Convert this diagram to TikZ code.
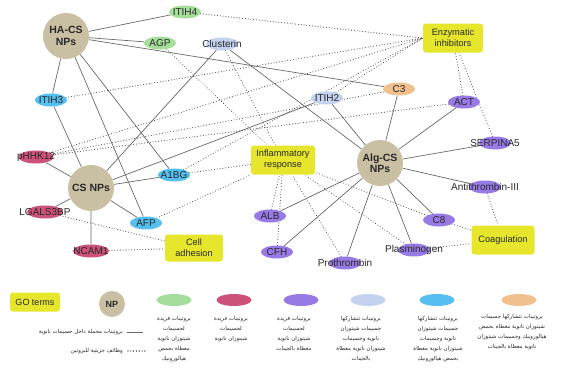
\documentclass[tikz,border=0pt]{standalone}
\usepackage{fontspec}
\setmainfont{Liberation Sans}
\newfontfamily\arabicfont[Script=Arabic]{DejaVu Sans}
\TeXXeTstate=1
\usetikzlibrary{shapes.geometric}
\definecolor{npc}{RGB}{201,192,163}
\definecolor{goc}{RGB}{230,230,45}
\definecolor{cgreen}{RGB}{165,222,155}
\definecolor{cred}{RGB}{205,82,122}
\definecolor{cpurple}{RGB}{152,122,230}
\definecolor{clav}{RGB}{196,210,240}
\definecolor{ccyan}{RGB}{85,192,240}
\definecolor{corange}{RGB}{240,192,142}
\definecolor{edgec}{RGB}{105,105,105}
\definecolor{dotc}{RGB}{80,80,80}
\definecolor{txtc}{RGB}{40,40,40}
\newcommand{\artxt}[1]{{\arabicfont\beginR #1\endR}}
\pgfdeclarelayer{bg}
\pgfdeclarelayer{canvas}
\pgfsetlayers{canvas,bg,main}
\begin{document}
\begin{tikzpicture}[x=1pt,y=-1pt,
  np/.style={circle,fill=npc,minimum size=46pt,inner sep=0pt,align=center,
    font=\bfseries\fontsize{10.5}{11.5}\selectfont,text=txtc},
  gobox/.style={fill=goc,rounded corners=3pt,minimum height=29pt,align=center,
    inner sep=1pt,font=\fontsize{9.2}{11}\selectfont,text=txtc},
  prot/.style={ellipse,fill=#1,minimum width=32pt,minimum height=13pt,inner sep=0pt},
  every label/.style={font=\fontsize{10}{11}\selectfont,text=txtc,inner sep=0pt},
  link/.style={draw=edgec,line width=0.7pt},
  func/.style={draw=dotc,line width=1.1pt,dash pattern=on 0.01pt off 2.8pt,line cap=round},
  leg/.style={ellipse,fill=#1,minimum width=35pt,minimum height=12pt,inner sep=0pt},
  legtxt/.style={align=center,inner sep=0pt,font=\fontsize{5.5}{10}\selectfont,text=txtc,anchor=north}
]
\begin{pgfonlayer}{canvas}
\fill[white] (0,0) rectangle (563,372);
\end{pgfonlayer}
\useasboundingbox (0,0) rectangle (563,372);

% nanoparticles
\node[np] (ha) at (66,36) {HA-CS\\NPs};
\node[np] (cs) at (91,188) {CS NPs};
\node[np] (alg) at (380,163) {Alg-CS\\NPs};

% GO terms
\node[gobox,minimum width=60pt] (enz) at (453,38) {Enzymatic\\inhibitors};
\node[gobox,minimum width=64pt] (inf) at (283,160) {Inflammatory\\response};
\node[gobox,minimum width=58pt,minimum height=27pt] (cell) at (194,248) {Cell\\adhesion};
\node[gobox,minimum width=63pt] (coag) at (503,240) {Coagulation};

% proteins
\node[prot=cgreen,label=center:ITIH4] (itih4) at (185,12) {};
\node[prot=cgreen,label=center:AGP] (agp) at (160,43) {};
\node[prot=clav,label=center:Clusterin] (clus) at (222,44) {};
\node[prot=ccyan,label=center:ITIH3] (itih3) at (51,100) {};
\node[prot=corange,label=center:C3] (c3) at (399,89) {};
\node[prot=clav,label=center:ITIH2] (itih2) at (327,98) {};
\node[prot=cpurple,label=center:ACT] (act) at (464,102) {};
\node[prot=cpurple,label=center:SERPINA5] (serp) at (495,143) {};
\node[prot=cpurple,label=center:Antithrombin-III] (anti) at (485,187) {};
\node[prot=cpurple,label=center:C8] (c8) at (439,220) {};
\node[prot=cpurple,label=center:Plasminogen] (plas) at (414,250) {};
\node[prot=cpurple,label=center:Prothrombin] (proth) at (345,263) {};
\node[prot=cpurple,label=center:CFH] (cfh) at (277,252) {};
\node[prot=cpurple,label=center:ALB] (alb) at (270,216) {};
\node[prot=cred,minimum width=35pt,label=center:pHHK12] (phhk) at (36,157) {};
\node[prot=ccyan,label=center:A1BG] (a1bg) at (174,175) {};
\node[prot=cred,minimum width=36pt,label=center:LGALS3BP] (lgal) at (45,212) {};
\node[prot=ccyan,label=center:AFP] (afp) at (146,223) {};
\node[prot=cred,minimum width=36pt,label=center:NCAM1] (ncam) at (91,251) {};

\begin{pgfonlayer}{bg}
% loaded proteins (solid)
\path[link] (ha) -- (itih4) (ha) -- (agp) (ha) -- (c3) (ha) -- (itih3)
  (ha) -- (a1bg) (ha) -- (afp);
\path[link] (cs) -- (itih3) (cs) -- (clus) (cs) -- (itih2) (cs) -- (phhk)
  (cs) -- (a1bg) (cs) -- (afp) (cs) -- (lgal) (cs) -- (ncam);
\path[link] (alg) -- (clus) (alg) -- (itih2) (alg) -- (c3) (alg) -- (act)
  (alg) -- (serp) (alg) -- (anti) (alg) -- (c8) (alg) -- (plas)
  (alg) -- (proth) (alg) -- (cfh) (alg) -- (alb);
% molecular functions (dotted)
\path[func] (itih4) -- (enz.west) (itih3) -- (enz.west) (phhk) -- (enz.west)
  (itih2) -- (enz.west) (a1bg) -- (enz.west) (act) -- (enz) (serp) -- (enz);
\path[func] (phhk) -- (c3) (phhk) -- (act);
\path[func] (agp) -- (inf) (clus) -- (inf)
  (a1bg) -- (inf) (afp) -- (inf) (alb) -- (inf) (cfh) -- (inf)
  (proth) -- (inf) (plas) -- (inf) (c8) -- (inf);
\path[func] (lgal) -- (cell) (ncam) -- (cell);
\path[func] (c8) -- (coag) (plas) -- (coag) (anti) -- (coag);
\end{pgfonlayer}

% legend
\node[gobox,minimum width=50pt,minimum height=19pt,font=\fontsize{9}{10}\selectfont] (lgo) at (35,302) {GO terms};
\node[np,minimum size=26pt,font=\bfseries\fontsize{9}{10}\selectfont] (lnp) at (112,304) {NP};
\node[leg=cgreen] (lg1) at (174,300) {};
\node[leg=cred] (lg2) at (234,300) {};
\node[leg=cpurple] (lg3) at (301,300) {};
\node[leg=clav] (lg4) at (368,300) {};
\node[leg=ccyan] (lg5) at (437,300) {};
\node[leg=corange] (lg6) at (519,300) {};

\node[legtxt] (t1) at (174,316) {\artxt{بروتينات فريدة}\\\artxt{لجسيمات}\\\artxt{شيتوزان نانوية}\\\artxt{مغطاة بحمض}\\\artxt{هيالورونيك}};
\node[legtxt] (t2) at (231,316) {\artxt{بروتينات فريدة}\\\artxt{لجسيمات}\\\artxt{شيتوزان نانوية}};
\node[legtxt] (t3) at (294,316) {\artxt{بروتينات فريدة}\\\artxt{لجسيمات}\\\artxt{شيتوزان نانوية}\\\artxt{مغطاة بالجينات}};
\node[legtxt] (t4) at (361,316) {\artxt{بروتينات تتشاركها}\\\artxt{جسيمات شيتوزان}\\\artxt{نانوية وجسيمات}\\\artxt{شيتوزان نانوية مغطاة}\\\artxt{بالجينات}};
\node[legtxt] (t5) at (438,316) {\artxt{بروتينات تتشاركها}\\\artxt{جسيمات شيتوزان}\\\artxt{نانوية وجسيمات}\\\artxt{شيتوزان نانوية مغطاة}\\\artxt{بحمض هيالورونيك}};
\node[legtxt] (t6) at (512,314) {\artxt{بروتينات تتشاركها جسيمات}\\\artxt{شيتوزان نانوية مغطاة بحمض}\\\artxt{هيالورونيك وجسيمات شيتوزان}\\\artxt{نانوية مغطاة بالجينات}};

\coordinate (s1a) at (127,332);
\coordinate (s1b) at (143,332);
\coordinate (s2a) at (128,351);
\coordinate (s2b) at (145,351);
\path[link] (s1a) -- (s1b);
\path[func] (s2a) -- (s2b);
\node[anchor=east,inner sep=0pt,font=\fontsize{5.5}{7}\selectfont,text=txtc] (l1) at (123,332) {\artxt{بروتينات محملة داخل جسيمات نانوية}};
\node[anchor=east,inner sep=0pt,font=\fontsize{5.5}{7}\selectfont,text=txtc] (l2) at (123,351) {\artxt{وظائف جزيئية للبروتين}};
\end{tikzpicture}
\end{document}
